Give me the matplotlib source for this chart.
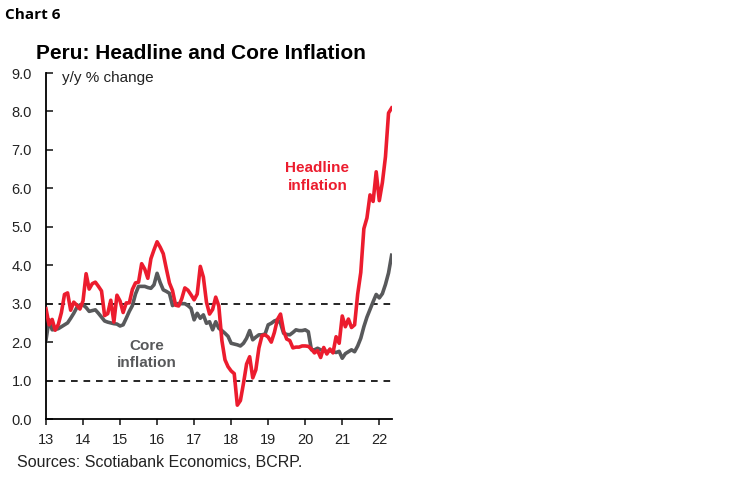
import numpy as np
import matplotlib.pyplot as plt

# monthly y/y %, Jan 2013 - May 2022
headline = [2.87, 2.45, 2.59, 2.31, 2.46, 2.77, 3.24, 3.28, 2.83, 3.04, 2.96, 2.86,
            3.07, 3.78, 3.38, 3.52, 3.56, 3.45, 3.33, 2.69, 2.74, 3.09, 2.52, 3.22,
            3.07, 2.77, 3.02, 3.02, 3.37, 3.54, 3.56, 4.04, 3.90, 3.66, 4.17, 4.40,
            4.61, 4.47, 4.30, 3.91, 3.54, 3.34, 2.96, 2.94, 3.13, 3.41, 3.35, 3.23,
            3.10, 3.25, 3.97, 3.69, 3.04, 2.73, 2.85, 3.17, 2.94, 2.04, 1.54, 1.36,
            1.25, 1.18, 0.36, 0.48, 0.93, 1.43, 1.62, 1.07, 1.28, 1.85, 2.17, 2.19,
            2.13, 2.00, 2.25, 2.59, 2.73, 2.29, 2.08, 2.04, 1.85, 1.87, 1.87, 1.90,
            1.90, 1.89, 1.82, 1.72, 1.78, 1.60, 1.86, 1.69, 1.82, 1.72, 2.14, 1.97,
            2.68, 2.40, 2.60, 2.38, 2.45, 3.25, 3.81, 4.95, 5.23, 5.83, 5.66, 6.43,
            5.68, 6.15, 6.82, 7.96, 8.09]
core = [2.05, 2.58, 2.32, 2.33, 2.35, 2.40, 2.45, 2.50, 2.62, 2.75, 2.90, 2.97,
        2.97, 2.90, 2.80, 2.82, 2.84, 2.75, 2.65, 2.55, 2.52, 2.50, 2.48, 2.47,
        2.42, 2.45, 2.62, 2.80, 2.95, 3.25, 3.45, 3.45, 3.45, 3.42, 3.40, 3.49,
        3.79, 3.55, 3.36, 3.32, 3.27, 2.95, 3.00, 3.00, 3.00, 3.00, 2.95, 2.88,
        2.58, 2.75, 2.62, 2.71, 2.49, 2.53, 2.32, 2.53, 2.36, 2.30, 2.23, 2.15,
        1.97, 1.95, 1.93, 1.90, 1.97, 2.10, 2.30, 2.06, 2.13, 2.19, 2.19, 2.21,
        2.45, 2.49, 2.55, 2.58, 2.49, 2.23, 2.20, 2.19, 2.25, 2.32, 2.30, 2.30,
        2.32, 2.27, 1.80, 1.80, 1.84, 1.80, 1.78, 1.75, 1.78, 1.75, 1.73, 1.76,
        1.58, 1.70, 1.75, 1.80, 1.75, 1.90, 2.10, 2.40, 2.65, 2.85, 3.05, 3.24,
        3.15, 3.26, 3.50, 3.80, 4.26]
year_labels = ["13", "14", "15", "16", "17", "18", "19", "20", "21", "22"]
target_band = [1.0, 3.0]

red = "#EC1C2E"
grey = "#58595B"

plt.rcParams["font.family"] = ["Liberation Sans", "DejaVu Sans"]

x = 2013 + np.arange(len(headline)) / 12.0

fig = plt.figure(figsize=(7.5, 4.82), dpi=100)
ax = fig.add_axes([0.0613, 0.1307, 0.4617, 0.7178])

for lvl in target_band:
    ax.axhline(lvl, color="black", lw=1.2, ls=(0, (4, 3.5)), zorder=1)

ax.plot(x, core, color=grey, lw=2.6, zorder=2)
ax.plot(x, headline, color=red, lw=2.6, zorder=3)

ax.set_xlim(2013, 2022.35)
ax.set_ylim(0, 9)
ax.set_yticks(np.arange(0, 9.1, 1.0))
ax.set_yticklabels([f"{v:.1f}" for v in np.arange(0, 9.1, 1.0)])
ax.set_xticks(np.arange(2013, 2023))
ax.set_xticklabels(year_labels)

ax.spines["top"].set_visible(False)
ax.spines["right"].set_visible(False)
ax.spines["left"].set_linewidth(1.3)
ax.spines["bottom"].set_linewidth(1.3)
ax.tick_params(axis="y", direction="in", length=5, width=1.2, labelsize=10.5, pad=10, colors="#222222")
ax.tick_params(axis="x", direction="out", length=4, width=1.2, labelsize=10.5, pad=6, colors="#222222")

ax.text(0.045, 0.985, "y/y % change", transform=ax.transAxes, fontsize=11,
        va="center", ha="left", color="#222222")
ax.text(2020.33, 6.3, "Headline\ninflation", color=red, fontsize=11, fontweight="bold",
        ha="center", va="center", linespacing=1.35)
ax.text(2015.72, 1.68, "Core\ninflation", color=grey, fontsize=11, fontweight="bold",
        ha="center", va="center", linespacing=1.3)

fig.text(0.007, 0.968, "Chart 6", fontsize=11, fontweight="bold", ha="left", va="center",
         family=["Open Sans", "DejaVu Sans"])
fig.text(0.268, 0.89, "Peru: Headline and Core Inflation", fontsize=15,
         fontweight="bold", ha="center", va="center")
fig.text(0.023, 0.04, "Sources: Scotiabank Economics, BCRP.", fontsize=11.5,
         ha="left", va="center", color="#222222")

fig.savefig("out.png", dpi=100)
